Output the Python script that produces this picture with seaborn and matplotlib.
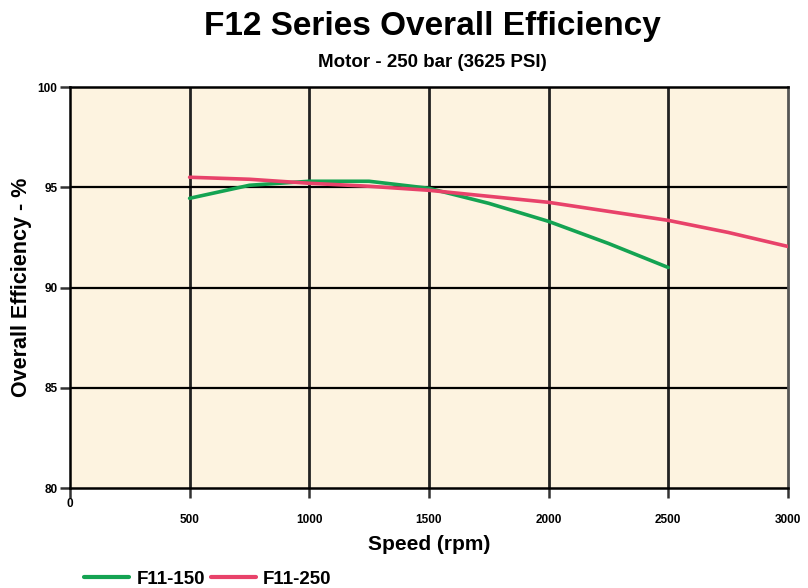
import pandas as pd
import matplotlib.pyplot as plt
import seaborn as sns

# Datos
speed_150 = [500, 750, 1000, 1250, 1500, 1750, 2000, 2250, 2500]
eff_150 = [94.45, 95.1, 95.3, 95.3, 94.95, 94.2, 93.3, 92.2, 91.0]

speed_250 = [500, 750, 1000, 1250, 1500, 1750, 2000, 2250, 2500, 2750, 3000]
eff_250 = [95.5, 95.4, 95.2, 95.05, 94.85, 94.55, 94.25, 93.8, 93.35, 92.75, 92.05]

series_names = ['F11-150', 'F11-250']
x_ticks = [0, 500, 1000, 1500, 2000, 2500, 3000]
y_ticks = [80, 85, 90, 95, 100]

data = pd.concat([
    pd.DataFrame({'Speed': speed_150, 'Eff': eff_150, 'Serie': series_names[0]}),
    pd.DataFrame({'Speed': speed_250, 'Eff': eff_250, 'Serie': series_names[1]}),
])

sns.set_style('white')
plt.rcParams['font.family'] = ['Liberation Sans Narrow', 'Liberation Sans', 'DejaVu Sans']
plt.rcParams['font.weight'] = 'bold'
plt.rcParams['text.color'] = 'black'
plt.rcParams['axes.labelcolor'] = 'black'
plt.rcParams['xtick.color'] = 'black'
plt.rcParams['ytick.color'] = 'black'

fig = plt.figure(figsize=(8.08, 5.88), dpi=100)
ax = fig.add_axes([0.0866, 0.17, 0.8884, 0.682])
ax.set_facecolor('#FDF3E0')

for x in x_ticks[1:-1]:
    ax.axvline(x, color='#222222', lw=2, zorder=1)
for y in y_ticks[1:-1]:
    ax.axhline(y, color='black', lw=1.6, zorder=1)

sns.lineplot(x='Speed', y='Eff', hue='Serie', data=data, ax=ax,
             palette=['#14A352', '#E8426A'], linewidth=2.6, legend=False, zorder=3)

ax.set_xlim(0, 3000)
ax.set_ylim(80, 100)
ax.set_xticks(x_ticks)
ax.set_yticks(y_ticks)
ax.tick_params(axis='both', direction='out', length=7, width=1.8, color='#333333',
               labelsize=8.5, bottom=True, left=True)
ax.tick_params(axis='x', pad=12)
ax.tick_params(axis='y', pad=2)
ax.xaxis.get_major_ticks()[0].set_pad(0)

for side in ['top', 'left', 'bottom']:
    ax.spines[side].set_color('black')
    ax.spines[side].set_linewidth(1.8)
ax.spines['right'].set_color('#555555')
ax.spines['right'].set_linewidth(2)

ax.set_xlabel('Speed (rpm)', fontsize=15, fontweight='bold', labelpad=6)
ax.set_ylabel('Overall Efficiency - %', fontsize=15.5, fontweight='bold', labelpad=4)

fig.text(0.535, 0.955, 'F12 Series Overall Efficiency', ha='center', va='center',
         fontsize=24, fontweight='bold')
fig.text(0.535, 0.893, 'Motor - 250 bar (3625 PSI)', ha='center', va='center',
         fontsize=13.5, fontweight='bold')

handles = [plt.Line2D([], [], color='#14A352', lw=3),
           plt.Line2D([], [], color='#E8426A', lw=3)]
fig.legend(handles, series_names, loc='lower left', bbox_to_anchor=(0.083, -0.028),
           ncol=2, frameon=False, fontsize=13.5, handlelength=2.4,
           columnspacing=0.3, handletextpad=0.4)

plt.savefig('out.png', dpi=100)
